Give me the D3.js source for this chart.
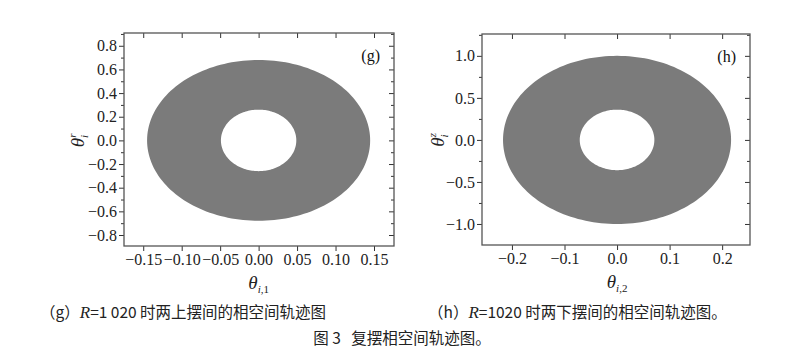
<!DOCTYPE html>
<html><head><meta charset="utf-8">
<script src="https://cdn.jsdelivr.net/npm/d3@7"></script>
<style>
body{margin:0;background:#fff;}
text{font-family:"Liberation Serif","DejaVu Serif",serif;}
.cjk{font-family:"Noto Sans CJK SC",sans-serif;white-space:pre;}
</style></head>
<body><svg id="c" width="804" height="360"></svg>
<script>
const panelIds = ["g", "h"];
const xDomains = [[-0.175, 0.176], [-0.257, 0.253]];
const yDomains = [[-0.893, 0.908], [-1.25, 1.26]];
const xTicks = [[-0.15, -0.10, -0.05, 0.00, 0.05, 0.10, 0.15], [-0.2, -0.1, 0.0, 0.1, 0.2]];
const yTicks = [[-0.8, -0.6, -0.4, -0.2, 0.0, 0.2, 0.4, 0.6, 0.8], [-1.0, -0.5, 0.0, 0.5, 1.0]];
const yMinor = [[-0.9,-0.7,-0.5,-0.3,-0.1,0.1,0.3,0.5,0.7,0.9], [-1.25,-0.75,-0.25,0.25,0.75,1.25]];
const xFmt = [".2f", ".1f"];
const yFmt = [".1f", ".1f"];
const outerRx = [0.145, 0.217];
const outerRy = [0.68, 1.0];
const innerRx = [0.049, 0.071];
const innerRy = [0.26, 0.36];
const xLabelSub = ["i,1", "i,2"];
const yLabelSup = ["r", "z"];
const captions = ["（g）R=1 020 时两上摆间的相空间轨迹图", "（h）R=1020 时两下摆间的相空间轨迹图。"];
const figCaption = "图 3   复摆相空间轨迹图。";

const frames = [{l:124, t:33, r:394, b:246}, {l:482, t:34, r:750, b:245}];
const svg = d3.select("#c");
const minus = s => s.replace(/-/g, "\u2212");

panelIds.forEach((id, i) => {
  const f = frames[i];
  const x = d3.scaleLinear().domain(xDomains[i]).range([f.l, f.r]);
  const y = d3.scaleLinear().domain(yDomains[i]).range([f.b, f.t]);
  const g = svg.append("g");
  const N = 180;
  const ring = (rx, ry) => d3.range(N).map(k => {
    const a = 2 * Math.PI * k / N;
    return [x(rx * Math.cos(a)), y(ry * Math.sin(a))];
  });
  const line = d3.line().curve(d3.curveLinearClosed);
  g.append("path")
    .attr("d", line(ring(outerRx[i], outerRy[i])) + line(ring(innerRx[i], innerRy[i]).reverse()))
    .attr("fill", "#7b7b7b").attr("fill-rule", "evenodd");

  const axStyle = sel => {
    sel.select(".domain").remove();
    sel.selectAll("line").attr("stroke", "#333");
    sel.selectAll("text").attr("font-size", 16).attr("fill", "#222")
      .style("font-family", "Liberation Serif, serif");
  };
  g.append("g").attr("transform", `translate(0,${f.b})`)
    .call(d3.axisBottom(x).tickValues(xTicks[i]).tickSize(5).tickPadding(3).tickFormat(d => minus(d3.format(xFmt[i])(d))))
    .call(axStyle);
  g.append("g").attr("transform", `translate(0,${f.t})`)
    .call(d3.axisBottom(x).tickValues(xTicks[i]).tickSize(5).tickFormat(""))
    .call(axStyle);
  g.append("g").attr("transform", `translate(${f.l},0)`)
    .call(d3.axisLeft(y).tickValues(yTicks[i]).tickSize(5).tickPadding(2).tickFormat(d => minus(d3.format(yFmt[i])(d))))
    .call(axStyle);
  g.append("g").attr("transform", `translate(${f.l},0)`)
    .call(d3.axisLeft(y).tickValues(yMinor[i].filter(v => v > yDomains[i][0] && v < yDomains[i][1])).tickSize(3).tickFormat(""))
    .call(axStyle);
  g.append("g").attr("transform", `translate(${f.r},0)`)
    .call(d3.axisLeft(y).tickValues(yTicks[i]).tickSize(5).tickFormat(""))
    .call(axStyle);
  g.append("g").attr("transform", `translate(${f.r},0)`)
    .call(d3.axisLeft(y).tickValues(yMinor[i].filter(v => v > yDomains[i][0] && v < yDomains[i][1])).tickSize(3).tickFormat(""))
    .call(axStyle);
  g.append("rect").attr("x", f.l).attr("y", f.t).attr("width", f.r - f.l).attr("height", f.b - f.t)
    .attr("fill", "none").attr("stroke", "#555").attr("stroke-width", 1.3);
  g.append("text").attr("x", f.r - 14).attr("y", f.t + 28).attr("text-anchor", "end")
    .attr("font-size", 16).attr("fill", "#111").text(`(${id})`);
  const xl = g.append("text").attr("x", x(0)).attr("y", f.b + 43).attr("text-anchor", "middle")
    .attr("font-size", 19).attr("fill", "#222");
  xl.append("tspan").attr("font-style", "italic").text("θ");
  xl.append("tspan").attr("font-size", 11).attr("dy", 4).attr("font-style", "italic").text(xLabelSub[i].split(",")[0]);
  xl.append("tspan").attr("font-size", 11).text("," + xLabelSub[i].split(",")[1]);
  const cy = y(0);
  const lx = i === 0 ? 84 : 444;
  const yl = g.append("text").attr("transform", `translate(${lx},${cy}) rotate(-90)`).attr("text-anchor", "middle")
    .attr("font-size", 19).attr("fill", "#222");
  yl.append("tspan").attr("font-style", "italic").text("θ");
  yl.append("tspan").attr("font-size", 11).attr("dy", 4).attr("font-style", "italic").text("i");
  yl.append("tspan").attr("font-size", 11).attr("dy", -12).attr("dx", -3).attr("font-style", "italic").text(yLabelSup[i]);
});

const capX = [40, 428];
captions.forEach((c, i) => {
  const t = svg.append("text").attr("class", "cjk").attr("x", capX[i]).attr("y", 318)
    .attr("font-size", 15.5).attr("fill", "#222");
  const m = c.match(/^(（.）)R(=.*)$/);
  t.append("tspan").text(m[1]);
  t.append("tspan").attr("font-style", "italic").style("font-family", "Liberation Serif, serif").attr("font-size", 17).text("R");
  t.append("tspan").text(m[2]);
});
svg.append("text").attr("class", "cjk").attr("x", 402).attr("y", 344).attr("text-anchor", "middle")
  .attr("font-size", 15.5).attr("fill", "#222").text(figCaption);
</script></body></html>
